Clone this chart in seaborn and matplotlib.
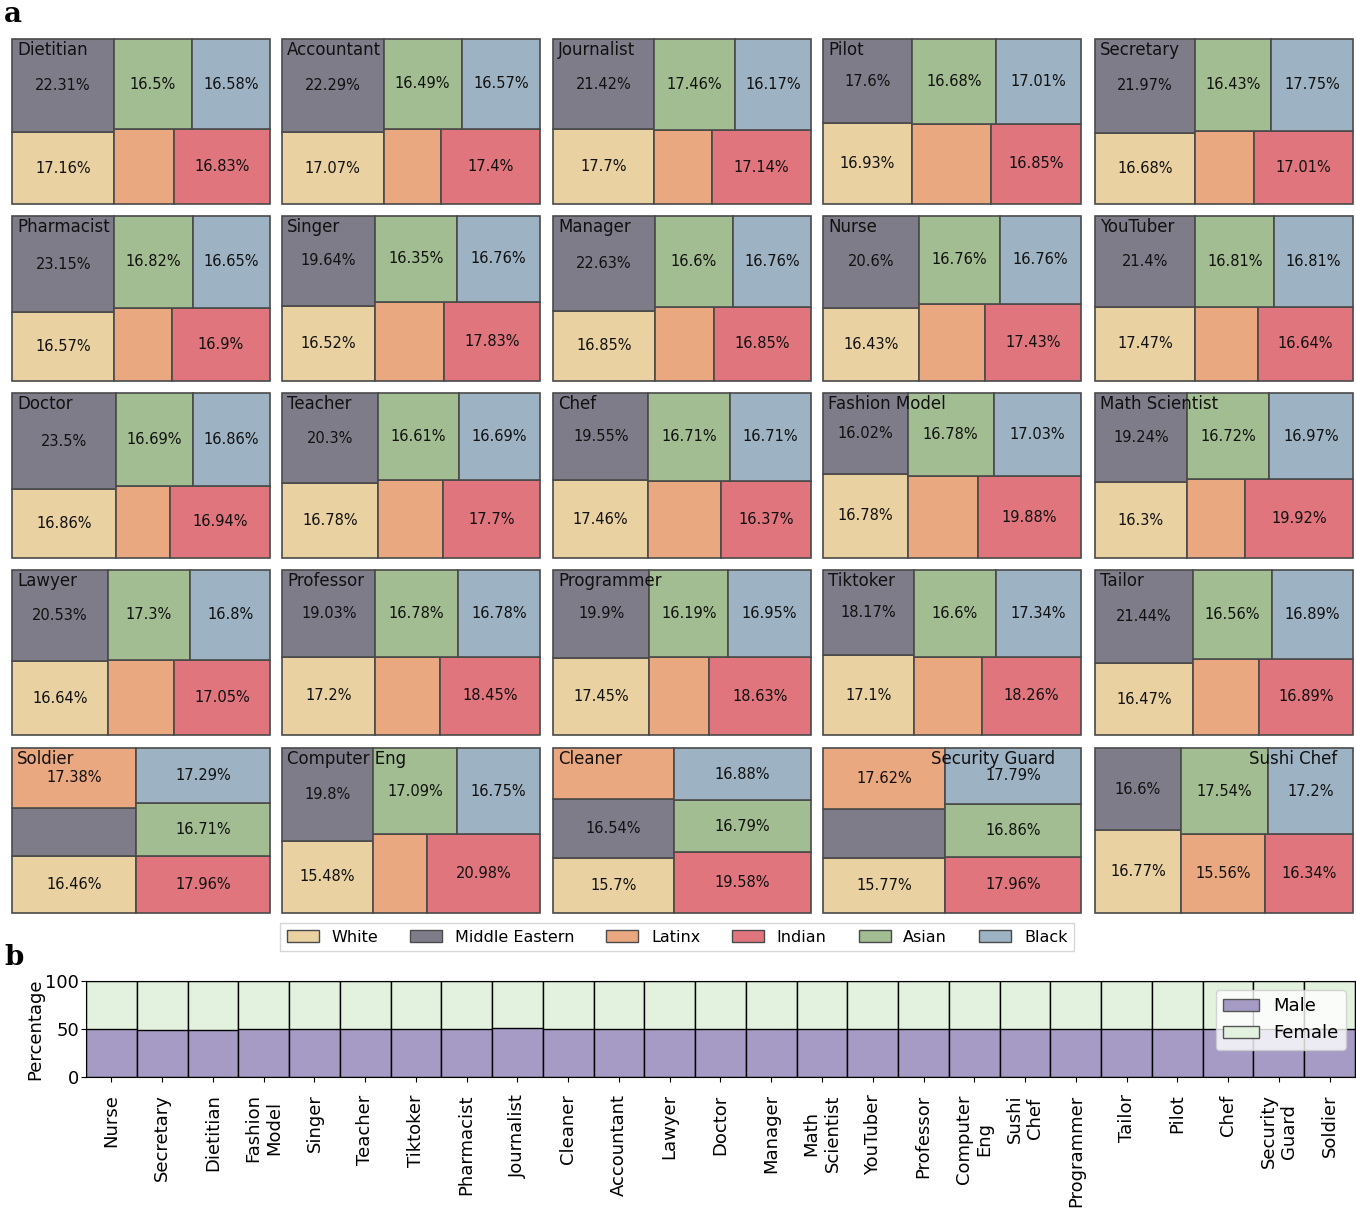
import matplotlib
matplotlib.use("Agg")
import matplotlib.pyplot as plt
from matplotlib.patches import Patch
import pandas as pd
import seaborn as sns

sns.set_style("ticks", rc={"text.color": "black", "axes.labelcolor": "black",
                           "xtick.color": "black", "ytick.color": "black",
                           "axes.edgecolor": "black"})
plt.rcParams["font.family"] = ["DejaVu Sans"]

# ---- data, panel a (values in the order of groups) ----
groups = ["White", "Middle Eastern", "Latinx", "Indian", "Asian", "Black"]
group_colors = ["#e9d1a2", "#7f7c8a", "#eaa880", "#e0757d", "#a2bd91", "#9db2c3"]

panel_jobs = ["Dietitian", "Accountant", "Journalist", "Pilot", "Secretary",
              "Pharmacist", "Singer", "Manager", "Nurse", "YouTuber",
              "Doctor", "Teacher", "Chef", "Fashion Model", "Math Scientist",
              "Lawyer", "Professor", "Programmer", "Tiktoker", "Tailor",
              "Soldier", "Computer Eng", "Cleaner", "Security Guard", "Sushi Chef"]
white = [17.16, 17.07, 17.7, 16.93, 16.68,
         16.57, 16.52, 16.85, 16.43, 17.47,
         16.86, 16.78, 17.46, 16.78, 16.3,
         16.64, 17.2, 17.45, 17.1, 16.47,
         16.46, 15.48, 15.7, 15.77, 16.77]
middle_eastern = [22.31, 22.29, 21.42, 17.6, 21.97,
                  23.15, 19.64, 22.63, 20.6, 21.4,
                  23.5, 20.3, 19.55, 16.02, 19.24,
                  20.53, 19.03, 19.9, 18.17, 21.44,
                  14.2, 19.8, 16.54, 14.0, 16.6]
latinx = [10.62, 10.18, 10.11, 14.93, 10.16,
          9.91, 12.9, 10.31, 12.02, 10.87,
          9.15, 11.92, 13.2, 13.51, 10.85,
          11.68, 11.76, 10.88, 12.53, 11.75,
          17.38, 9.9, 14.51, 17.62, 15.56]
indian = [16.83, 17.4, 17.14, 16.85, 17.01,
          16.9, 17.83, 16.85, 17.43, 16.64,
          16.94, 17.7, 16.37, 19.88, 19.92,
          17.05, 18.45, 18.63, 18.26, 16.89,
          17.96, 20.98, 19.58, 17.96, 16.34]
asian = [16.5, 16.49, 17.46, 16.68, 16.43,
         16.82, 16.35, 16.6, 16.76, 16.81,
         16.69, 16.61, 16.71, 16.78, 16.72,
         17.3, 16.78, 16.19, 16.6, 16.56,
         16.71, 17.09, 16.79, 16.86, 17.54]
black = [16.58, 16.57, 16.17, 17.01, 17.75,
         16.65, 16.76, 16.76, 16.76, 16.81,
         16.86, 16.69, 16.71, 17.03, 16.97,
         16.8, 16.78, 16.95, 17.34, 16.89,
         17.29, 16.75, 16.88, 17.79, 17.2]

# ---- data, panel b ----
gender_jobs = ["Nurse", "Secretary", "Dietitian", "Fashion\nModel", "Singer",
               "Teacher", "Tiktoker", "Pharmacist", "Journalist", "Cleaner",
               "Accountant", "Lawyer", "Doctor", "Manager", "Math\nScientist",
               "YouTuber", "Professor", "Computer\nEng", "Sushi\nChef", "Programmer",
               "Tailor", "Pilot", "Chef", "Security\nGuard", "Soldier"]
male = [50.2, 49.4, 49.4, 50.1, 50.1, 50.0, 49.9, 50.1, 51.2, 49.6,
        49.8, 49.9, 49.9, 49.8, 49.9, 49.8, 49.7, 50.1, 50.0, 49.5,
        49.6, 49.7, 49.9, 49.8, 50.0]
female = [49.8, 50.6, 50.6, 49.9, 49.9, 50.0, 50.1, 49.9, 48.8, 50.4,
          50.2, 50.1, 50.1, 50.2, 50.1, 50.2, 50.3, 49.9, 50.0, 50.5,
          50.4, 50.3, 50.1, 50.2, 50.0]
male_color = "#a59bc4"
female_color = "#e3f2df"


# squarify layout (same algorithm as the squarify package)
def layout(sizes, x, y, dx, dy):
    covered = sum(sizes)
    rects = []
    if dx >= dy:
        w = covered / dy
        for s in sizes:
            rects.append((x, y, w, s / w))
            y += s / w
    else:
        h = covered / dx
        for s in sizes:
            rects.append((x, y, s / h, h))
            x += s / h
    return rects


def worst_ratio(sizes, x, y, dx, dy):
    return max(max(r[2] / r[3], r[3] / r[2]) for r in layout(sizes, x, y, dx, dy))


def squarify(sizes, x, y, dx, dy):
    if len(sizes) == 0:
        return []
    if len(sizes) == 1:
        return layout(sizes, x, y, dx, dy)
    i = 1
    while i < len(sizes) and worst_ratio(sizes[:i], x, y, dx, dy) >= \
            worst_ratio(sizes[:i + 1], x, y, dx, dy):
        i += 1
    cur, rest = sizes[:i], sizes[i:]
    covered = sum(cur)
    if dx >= dy:
        w = covered / dy
        nx, ny, ndx, ndy = x + w, y, dx - w, dy
    else:
        h = covered / dx
        nx, ny, ndx, ndy = x, y + h, dx, dy - h
    return layout(cur, x, y, dx, dy) + squarify(rest, nx, ny, ndx, ndy)


W, H = 1356, 1212
fig = plt.figure(figsize=(W / 100, H / 100), dpi=100)


def px_axes(left, top, width, height):
    return fig.add_axes([left / W, 1 - (top + height) / H, width / W, height / H])


col_left = [12, 282, 553, 823, 1095]
row_top = [39, 216, 393, 570, 748]
title_x = {"Security Guard": 0.42, "Sushi Chef": 0.597}

for k, job in enumerate(panel_jobs):
    ax = px_axes(col_left[k % 5], row_top[k // 5], 258, 165)
    vals = [white[k], middle_eastern[k], latinx[k], indian[k], asian[k], black[k]]
    total = sum(vals)
    sizes = [v * 100 * 100 / total for v in vals]
    rects = squarify(sizes, 0, 0, 100, 100)
    for (rx, ry, rw, rh), v, c in zip(rects, vals, group_colors):
        ax.bar(rx, rh, width=rw, bottom=ry, align="edge", color=c,
               edgecolor="#4a4a4a", linewidth=1.2, clip_on=False)
        # small shares get no label
        if v >= 15:
            ax.text(rx + rw / 2, ry + rh / 2, f"{v}%", ha="center", va="center",
                    fontsize=10.5, color="#111111")
    ax.set_xlim(0, 100)
    ax.set_ylim(0, 100)
    ax.axis("off")
    ax.text(title_x.get(job, 0.02), 0.985, job, transform=ax.transAxes,
            ha="left", va="top", fontsize=12, color="#111111")

handles = [Patch(facecolor=c, edgecolor="#4a4a4a", label=g)
           for g, c in zip(groups, group_colors)]
fig.legend(handles=handles, loc="center", ncol=6, fontsize=11.5,
           bbox_to_anchor=(677 / W, 1 - 937 / H), handlelength=2.0,
           columnspacing=2.0, fancybox=False, edgecolor="#cccccc")

# ---- panel b ----
df = pd.DataFrame({"job": gender_jobs, "male": male, "female": female})
df["stack_top"] = df["male"] + df["female"]

axb = px_axes(86, 981, 1269, 96)
sns.barplot(data=df, x="job", y="stack_top", color=female_color, width=1,
            saturation=1, edgecolor="black", linewidth=1, ax=axb)
sns.barplot(data=df, x="job", y="male", color=male_color, width=1,
            saturation=1, edgecolor="black", linewidth=1, ax=axb)
axb.set_ylim(0, 100)
axb.set_yticks([0, 50, 100])
axb.set_xlabel("")
axb.set_ylabel("Percentage", fontsize=13, labelpad=0.5)
axb.tick_params(axis="both", labelsize=13, length=3.5)
axb.tick_params(axis="y", pad=1.5)
axb.tick_params(axis="x", labelrotation=90, pad=9)
axb.legend(handles=[Patch(facecolor=male_color, edgecolor="#555555", label="Male"),
                    Patch(facecolor=female_color, edgecolor="#555555", label="Female")],
           loc="upper right", fontsize=13)

fig.text(4 / W, 1 - 1.5 / H, "a", fontsize=20, fontweight="bold",
         family="DejaVu Serif", va="top")
fig.text(4 / W, 1 - 944 / H, "b", fontsize=20, fontweight="bold",
         family="DejaVu Serif", va="top")

fig.savefig("out.png", dpi=100)
